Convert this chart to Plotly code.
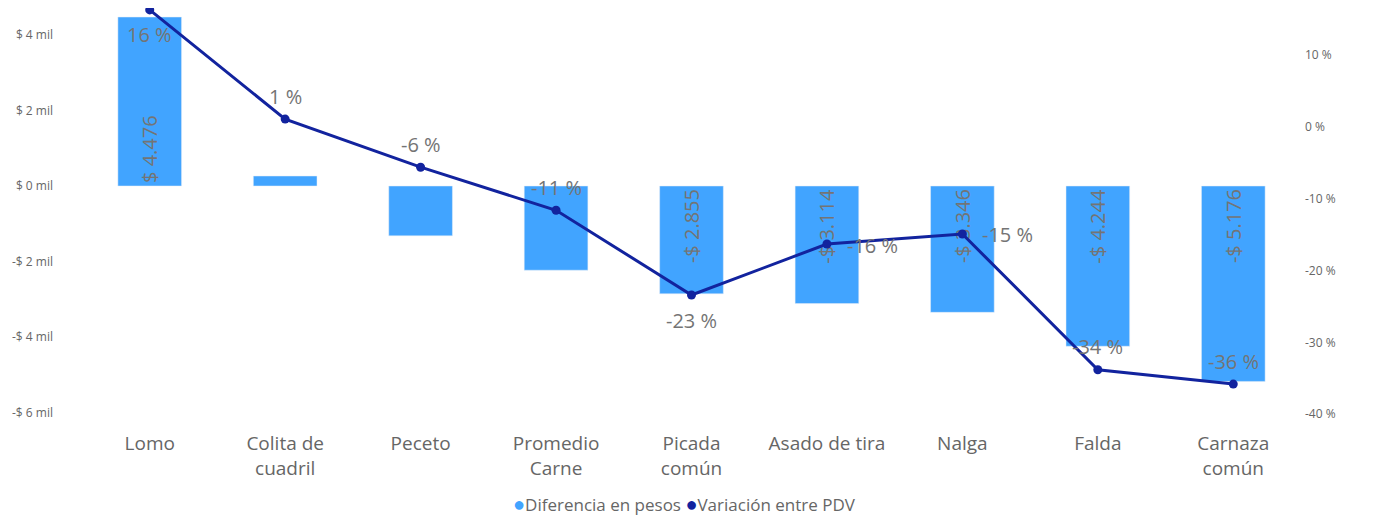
import plotly.graph_objects as go

categories = ["Lomo", "Colita de<br>cuadril", "Peceto", "Promedio<br>Carne", "Picada<br>común",
              "Asado de tira", "Nalga", "Falda", "Carnaza<br>común"]
diferencia = [4476, 265, -1320, -2230, -2855, -3114, -3346, -4244, -5176]
variacion = [16.3, 1.1, -5.6, -11.6, -23.4, -16.3, -14.9, -33.8, -35.8]
pct_labels = ["16 %", "1 %", "-6 %", "-11 %", "-23 %", "-16 %", "-15 %", "-34 %", "-36 %"]
pct_positions = ["below", "above", "above", "above", "below", "right", "right", "above", "above"]
left_ticks = [4, 2, 0, -2, -4, -6]
left_ticktext = ["$ 4 mil", "$ 2 mil", "$ 0 mil", "-$ 2 mil", "-$ 4 mil", "-$ 6 mil"]
right_ticks = [10, 0, -10, -20, -30, -40]
right_ticktext = ["10 %", "0 %", "-10 %", "-20 %", "-30 %", "-40 %"]

BAR = "#41A4FF"
LINE = "#12239E"
GREY = "#666666"
LABEL = "#747474"
FONT = "Segoe UI, Open Sans, sans-serif"


def fmt_money(v):
    s = f"{abs(v):,}".replace(",", ".")
    return ("-$ " if v < 0 else "$ ") + s


bar_text = [fmt_money(v) if abs(v) >= 2500 else "" for v in diferencia]

fig = go.Figure()
fig.add_trace(go.Bar(
    x=categories, y=[v / 1000 for v in diferencia], name="Diferencia en pesos",
    marker=dict(color=BAR), text=bar_text, textposition="inside",
    insidetextanchor="start", textangle=-90,
    textfont=dict(size=20, color=LABEL, family=FONT),
    showlegend=False, yaxis="y",
))
fig.add_trace(go.Scatter(
    x=categories, y=variacion, name="Variación entre PDV", mode="lines+markers",
    line=dict(color=LINE, width=3), marker=dict(color=LINE, size=9),
    showlegend=False, yaxis="y2", cliponaxis=False,
))

shifts = {"above": dict(xshift=0, yshift=23, xanchor="center"),
          "below": dict(xshift=0, yshift=-25, xanchor="center"),
          "right": dict(xshift=18, yshift=-1, xanchor="left")}
for cat, val, lab, pos in zip(categories, variacion, pct_labels, pct_positions):
    fig.add_annotation(x=cat, y=val, xref="x", yref="y2", text=lab, showarrow=False,
                       yanchor="middle", font=dict(size=20, color=LABEL, family=FONT),
                       **shifts[pos])

legend_text = (f"<span style='color:{BAR};font-size:20px'>●</span>Diferencia en pesos "
               f"<span style='color:{LINE};font-size:20px'>●</span>Variación entre PDV")
fig.add_annotation(x=0.494, y=-0.188, xref="paper", yref="paper", text=legend_text,
                   showarrow=False, xanchor="center", yanchor="middle",
                   font=dict(size=17, color=GREY, family=FONT))

fig.update_layout(
    width=1363, height=508,
    margin=dict(l=74, r=70, t=0, b=91),
    paper_bgcolor="white", plot_bgcolor="white",
    font=dict(family=FONT, color=GREY),
    bargap=0.53,
    showlegend=False,
    xaxis=dict(showgrid=False, showline=False, zeroline=False,
               tickfont=dict(size=19, color=GREY), ticks="", ticklabelstandoff=5),
    yaxis=dict(range=[-6.33, 4.715], showgrid=False, zeroline=False, showline=False,
               tickvals=left_ticks, ticktext=left_ticktext,
               tickfont=dict(size=12, color=GREY), ticklabelstandoff=28),
    yaxis2=dict(range=[-41.5, 16.57], overlaying="y", side="right", showgrid=False,
                zeroline=False, showline=False, tickvals=right_ticks, ticktext=right_ticktext,
                tickfont=dict(size=12, color=GREY), ticklabelstandoff=3),
)

fig.write_html("out.html")
